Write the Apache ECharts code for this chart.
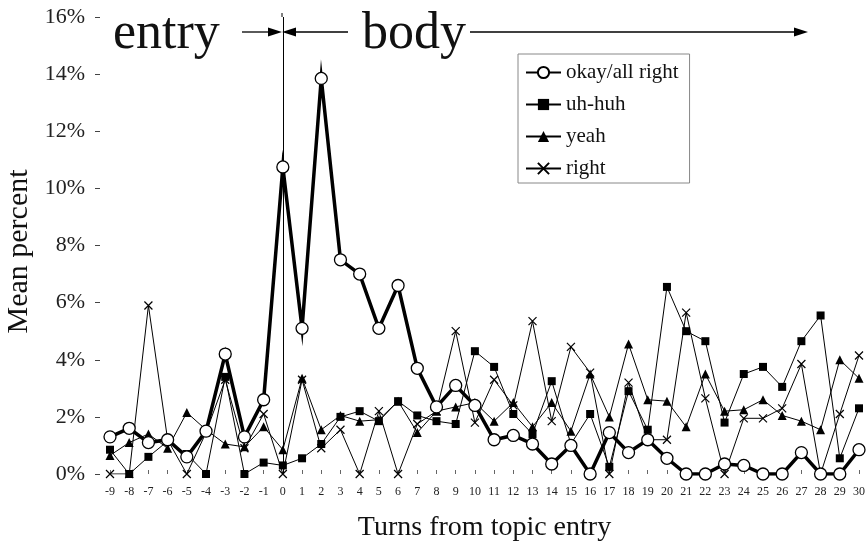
<!DOCTYPE html>
<html><head><meta charset="utf-8">
<script src="https://cdn.jsdelivr.net/npm/echarts@6/dist/echarts.min.js"></script>
<style>html,body{margin:0;padding:0;background:#fff}#c{width:866px;height:544px}</style>
</head><body><div id="c"></div>
<script>
var turns = ['-9','-8','-7','-6','-5','-4','-3','-2','-1','0','1','2','3','4','5','6','7','8','9','10','11','12','13','14','15','16','17','18','19','20','21','22','23','24','25','26','27','28','29','30'];
var okayAllRight = [1.3,1.6,1.1,1.2,0.6,1.5,4.2,1.3,2.6, 10.75,5.1,13.85,7.5,7.0,5.1,6.6,3.7,2.35,3.1,2.4, 1.2,1.35,1.05,0.35,1.0,0.0,1.45,0.75,1.2,0.55, 0.0,0.0,0.35,0.3,0.0,0.0,0.75,0.0,0.0,0.85];
var uhHuh = [0.85,0,0.6,1.15,0.7,0,3.4,0,0.4, 0.3,0.55,1.05,2.0,2.2,1.85,2.55,2.05,1.85,1.75,4.3, 3.75,2.1,1.4,3.25,1.05,2.1,0.25,2.9,1.55,6.55, 5.0,4.65,1.8,3.5,3.75,3.05,4.65,5.55,0.55,2.3];
var yeah = [0.65,1.1,1.4,0.9,2.15,1.55,1.05,0.95,1.65, 0.85,3.35,1.55,2.05,1.85,1.9,2.55,1.45,2.2,2.35,2.5, 1.85,2.5,1.65,2.5,1.5,3.5,2.0,4.55,2.6,2.55, 1.65,3.5,2.2,2.25,2.6,2.05,1.85,1.55,4.0,3.35];
var right = [0,0,5.9,1.2,0,1.45,3.3,0.9,2.1, 0,3.3,0.9,1.55,0,2.2,0,1.75,2.2,5.0,1.8, 3.3,2.4,5.35,1.85,4.45,3.55,0,3.2,1.2,1.2, 5.65,2.65,0,1.95,1.95,2.3,3.85,0,2.1,4.15];
var yTicks = {min:0, max:16, interval:2};

var FONT = '"Liberation Serif","Times New Roman",serif';
var chart = echarts.init(document.getElementById('c'));
chart.setOption({
  animation:false,
  backgroundColor:'#fff',
  textStyle:{fontFamily:FONT},
  grid:{left:110, right:7, top:17, bottom:70, containLabel:false, outerBoundsMode:'none'},
  legend:{
    orient:'vertical', left:518, top:54,
    itemWidth:35, itemHeight:14, itemGap:11,
    padding:[8,11,4,7],
    borderColor:'#888', borderWidth:1,
    textStyle:{fontFamily:FONT, fontSize:21, color:'#111'},
    data:['okay/all right','uh-huh','yeah','right']
  },
  xAxis:{
    type:'category', data:turns, boundaryGap:false,
    name:'Turns from topic entry', nameLocation:'middle', nameGap:40,
    nameTextStyle:{fontFamily:FONT, fontSize:28, color:'#111'},
    axisLine:{show:false},
    axisTick:{show:true, alignWithLabel:true, length:4, inside:true, lineStyle:{color:'#666'}},
    axisLabel:{fontFamily:FONT, fontSize:12, color:'#222', margin:12, interval:0},
    splitLine:{show:false}
  },
  yAxis:{
    type:'value', min:yTicks.min, max:yTicks.max, interval:yTicks.interval, offset:10,
    name:'Mean percent', nameLocation:'middle', nameGap:65, nameRotate:90,
    nameTextStyle:{fontFamily:FONT, fontSize:30, color:'#111', padding:[0,0,0,-12]},
    axisLine:{show:false},
    axisTick:{show:true, length:5, lineStyle:{color:'#444'}},
    axisLabel:{fontFamily:FONT, fontSize:22, color:'#222', margin:15, formatter:'{value}%'},
    splitLine:{show:false}
  },
  series:[
    {name:'right', type:'line', data:right, z:2,
     symbol:'path://M0,0L10,10M10,0L0,10', symbolSize:8,
     itemStyle:{color:'rgba(0,0,0,0)', borderColor:'#000', borderWidth:1.2},
     lineStyle:{color:'#000', width:1}},
    {name:'yeah', type:'line', data:yeah, z:3,
     symbol:'triangle', symbolSize:9,
     itemStyle:{color:'#000'}, lineStyle:{color:'#000', width:1}},
    {name:'uh-huh', type:'line', data:uhHuh, z:4,
     symbol:'rect', symbolSize:8,
     itemStyle:{color:'#000'}, lineStyle:{color:'#000', width:1},
     markLine:{silent:true, symbol:'none', label:{show:false},
       lineStyle:{color:'#000', width:1, type:'solid'},
       data:[{xAxis:'0'}]}},
    {name:'okay/all right', type:'line', data:okayAllRight, z:5,
     symbol:'circle', symbolSize:12,
     itemStyle:{color:'#fff', borderColor:'#000', borderWidth:1.3},
     lineStyle:{color:'#000', width:3.5, join:'miter', miterLimit:20}}
  ],
  graphic:[
    {type:'text', x:113, y:34, style:{text:'entry', font:'52px '+FONT, fill:'#111', align:'left', verticalAlign:'middle'}},
    {type:'text', x:362, y:34, style:{text:'body', font:'52px '+FONT, fill:'#111', align:'left', verticalAlign:'middle'}},
    {type:'line', shape:{x1:242,y1:32,x2:272,y2:32}, style:{stroke:'#000', lineWidth:1.3}},
    {type:'polygon', shape:{points:[[268,27.5],[282,32],[268,36.5]]}, style:{fill:'#000'}},
    {type:'line', shape:{x1:292,y1:32,x2:348,y2:32}, style:{stroke:'#000', lineWidth:1.3}},
    {type:'polygon', shape:{points:[[296,27.5],[282,32],[296,36.5]]}, style:{fill:'#000'}},
    {type:'line', shape:{x1:470,y1:32,x2:798,y2:32}, style:{stroke:'#000', lineWidth:1.3}},
    {type:'polygon', shape:{points:[[794,27.5],[808,32],[794,36.5]]}, style:{fill:'#000'}},
    {type:'line', shape:{x1:282,y1:13,x2:282,y2:17}, style:{stroke:'#000', lineWidth:1}}
  ]
});
</script></body></html>
